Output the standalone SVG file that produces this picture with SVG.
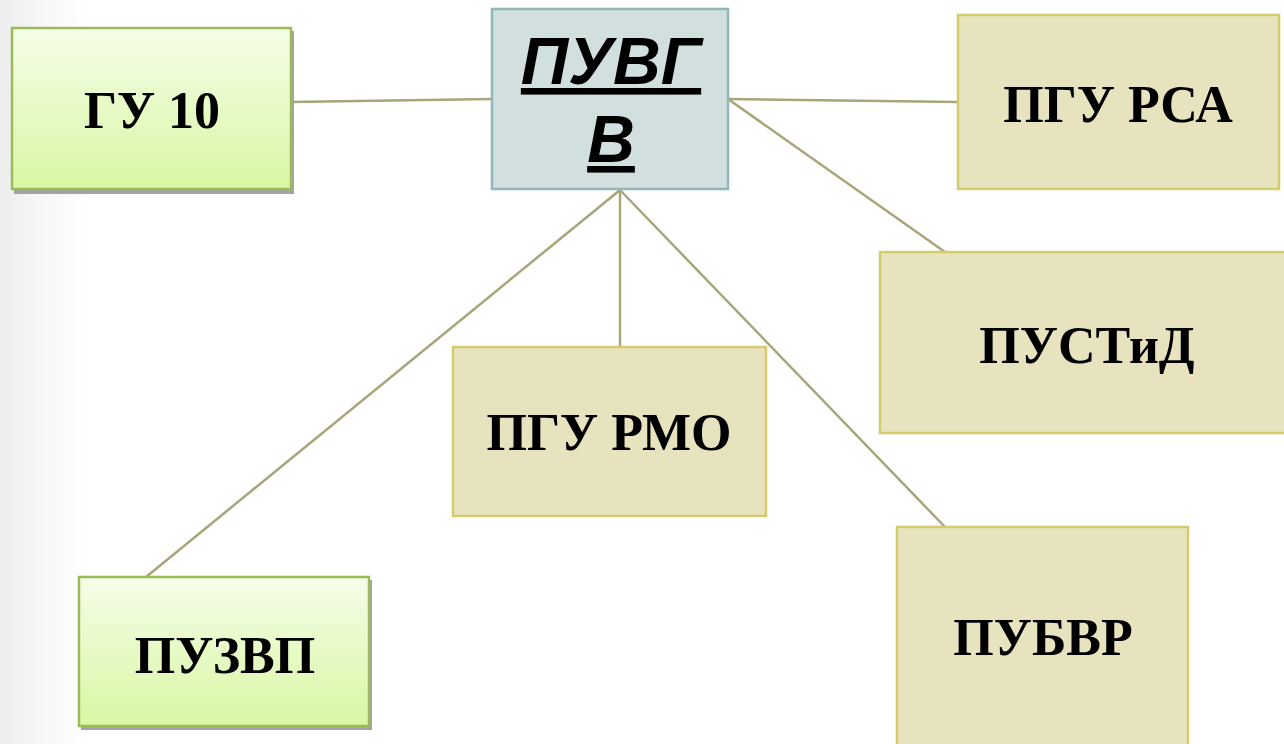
<svg xmlns="http://www.w3.org/2000/svg" width="1284" height="744" viewBox="0 0 1284 744">
<defs>
<linearGradient id="bg" x1="0" y1="0" x2="1" y2="0">
<stop offset="0" stop-color="#ececec"/>
<stop offset="0.03" stop-color="#f7f7f7"/>
<stop offset="0.07" stop-color="#ffffff"/>
</linearGradient>
<linearGradient id="green" x1="0" y1="0" x2="0" y2="1">
<stop offset="0" stop-color="#f5fde8"/>
<stop offset="1" stop-color="#d8f7a4"/>
</linearGradient>
<style>
.green{fill:url(#green);stroke:#9bbb59;stroke-width:2.5}
.shadow{fill:#a3a3a3}
.tan{fill:#e8e3bf;stroke:#d4cb6c;stroke-width:2.5}
.hub{fill:#d1dfdf;stroke:#92b7b8;stroke-width:2.5}
.lbl{font-family:"Liberation Serif","Times New Roman",serif;font-weight:bold;font-size:52px;fill:#000;text-anchor:middle}
.hubt{font-family:"Liberation Sans",Arial,sans-serif;font-weight:bold;font-style:italic;font-size:66px;fill:#000;text-anchor:middle;text-decoration:underline}
.conn line{stroke:#a8a57b;stroke-width:2.5}
</style>
</defs>
<rect width="1284" height="744" fill="url(#bg)"/>
<g class="conn" id="connectors">
<line x1="291" y1="102" x2="492" y2="99"/>
<line x1="728" y1="99" x2="958" y2="102"/>
<line x1="728" y1="99" x2="945" y2="252"/>
<line x1="620" y1="190" x2="146" y2="577"/>
<line x1="620" y1="190" x2="620" y2="347"/>
<line x1="620" y1="190" x2="945" y2="527"/>
</g>
<g id="node-gu10">
<rect class="shadow" x="14" y="31" width="280" height="163"/>
<rect class="green" x="12" y="28" width="279" height="161"/>
<text class="lbl" x="152" y="128">ГУ 10</text>
</g>
<g id="node-puvg">
<rect class="hub" x="492" y="9" width="236" height="180"/>
<text class="hubt" x="611" y="84">ПУВГ</text>
<text class="hubt" x="611" y="162">В</text>
</g>
<g id="node-pgu-rsa">
<rect class="tan" x="958" y="15" width="321" height="174"/>
<text class="lbl" x="1118" y="122">ПГУ РСА</text>
</g>
<g id="node-pustid">
<rect class="tan" x="880" y="252" width="406" height="181"/>
<text class="lbl" x="1087" y="363">ПУСТиД</text>
</g>
<g id="node-pgu-rmo">
<rect class="tan" x="453" y="347" width="313" height="169"/>
<text class="lbl" x="609" y="450">ПГУ РМО</text>
</g>
<g id="node-pubvr">
<rect class="tan" x="897" y="527" width="291" height="220"/>
<text class="lbl" x="1043" y="655">ПУБВР</text>
</g>
<g id="node-puzvp">
<rect class="shadow" x="81" y="580" width="291" height="150"/>
<rect class="green" x="79" y="577" width="290" height="149"/>
<text class="lbl" x="225" y="673">ПУЗВП</text>
</g>
</svg>
